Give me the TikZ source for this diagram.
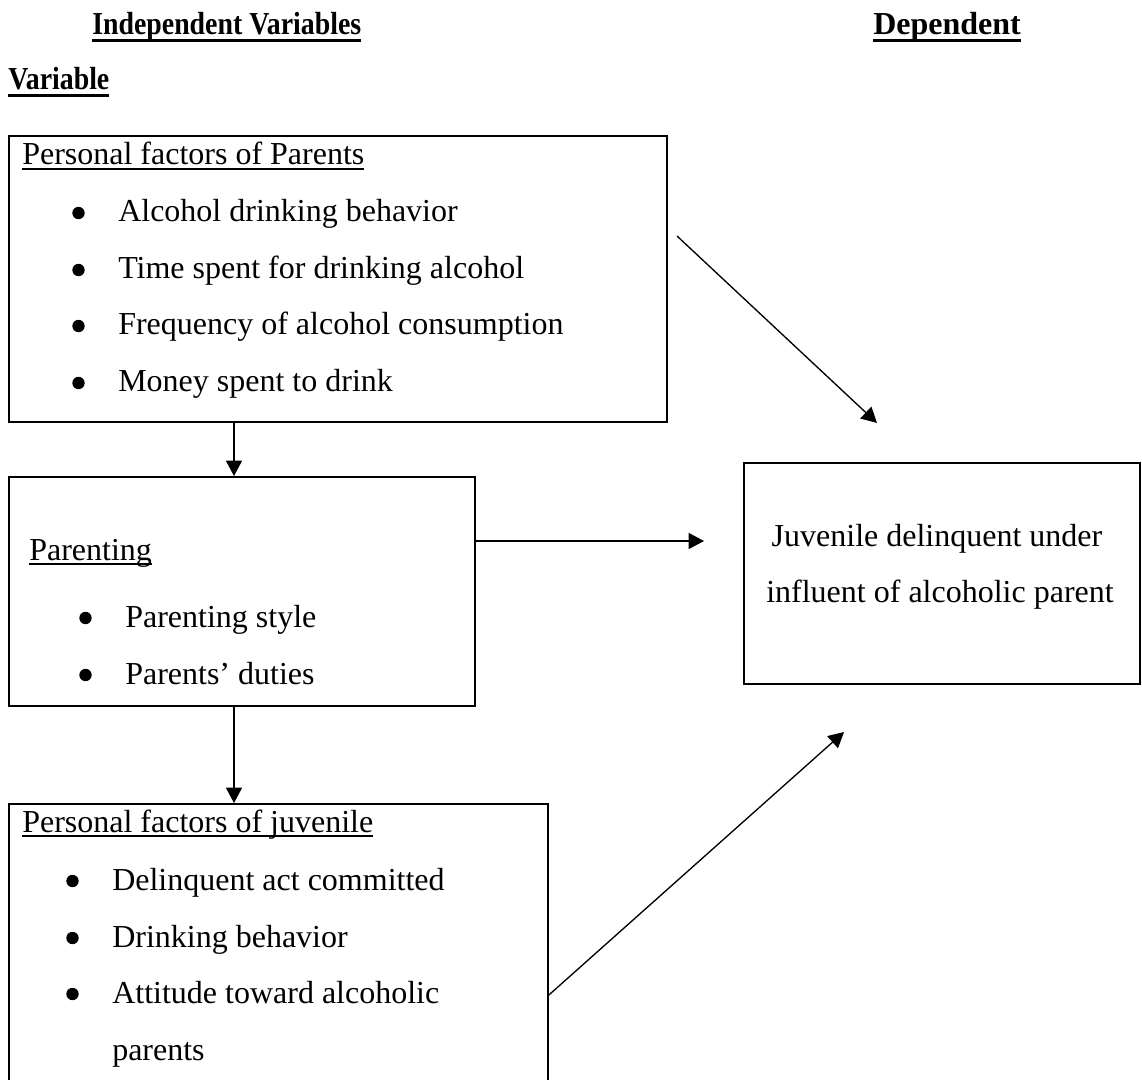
\documentclass[tikz,border=0pt]{standalone}
\usepackage{fontspec}
\setmainfont{Liberation Serif}
\usetikzlibrary{arrows.meta}
% underline at a set depth and thickness
\newcommand{\ulbox}[3]{\setbox0=\hbox{#3}\rlap{\rule[-#1]{\wd0}{#2}}\box0}
\newcommand{\narrow}[1]{\scalebox{0.87}[1]{#1}}

\begin{document}
\begin{tikzpicture}[x=0.75pt,y=0.75pt,yscale=-1,
  frame/.style={draw, line width=1.4pt, inner sep=0pt, anchor=north west},
  txt/.style={anchor=base west, inner sep=0pt, font=\fontsize{24pt}{28pt}\selectfont},
  head/.style={anchor=base west, inner sep=0pt, font=\fontsize{24pt}{28pt}\selectfont\bfseries},
  dot/.style={fill=black},
  arr/.style={line width=1pt, -{Triangle[length=11.5pt,width=12pt]}}]
\useasboundingbox (0,0) rectangle (1142,1080);
\clip (0,0) rectangle (1142,1080);

%Headings
\node[head] (indep) at (92,35) {\ulbox{0.22em}{0.1em}{\narrow{Independent Variables}}};
\node[head] (dep) at (873,35) {\ulbox{0.22em}{0.1em}{Dependent}};
\node[head] (var) at (8,90) {\ulbox{0.22em}{0.1em}{\narrow{Variable}}};

%Shape: Rectangle [parents]
\node[frame, minimum width={658*0.75pt}, minimum height={286*0.75pt}] (pers) at (8,135) {};
\node[txt] (persT) at (22,165) {\ulbox{0.16em}{0.07em}{Personal factors of Parents}};
\node[txt] (persA) at (118,222) {Alcohol drinking behavior};
\node[txt] (persB) at (118,279) {Time spent for drinking alcohol};
\node[txt] (persC) at (118,335) {Frequency of alcohol consumption};
\node[txt] (persD) at (118,392) {Money spent to drink};
\fill[dot] ([shift={(-39.5,-9)}]persA.base west) circle (6.2);
\fill[dot] ([shift={(-39.5,-9)}]persB.base west) circle (6.2);
\fill[dot] ([shift={(-39.5,-9)}]persC.base west) circle (6.2);
\fill[dot] ([shift={(-39.5,-9)}]persD.base west) circle (6.2);

%Shape: Rectangle [parenting]
\node[frame, minimum width={466*0.75pt}, minimum height={229*0.75pt}] (par) at (8,476) {};
\node[txt] (parT) at (29,560) {\ulbox{0.16em}{0.07em}{Parenting}};
\node[txt] (parA) at (125,627) {Parenting style};
\node[txt] (parB) at (125,684) {Parents’ duties};
\fill[dot] ([shift={(-39.5,-9)}]parA.base west) circle (6.2);
\fill[dot] ([shift={(-39.5,-9)}]parB.base west) circle (6.2);

%Shape: Rectangle [juvenile]
\node[frame, minimum width={539*0.75pt}, minimum height={300*0.75pt}] (juv) at (8,803) {};
\node[txt] (juvT) at (22,832) {\ulbox{0.16em}{0.07em}{Personal factors of juvenile}};
\node[txt] (juvA) at (112,890) {Delinquent act committed};
\node[txt] (juvB) at (112,947) {Drinking behavior};
\node[txt] (juvC) at (112,1003) {Attitude toward alcoholic};
\node[txt] (juvD) at (112,1060) {parents};
\fill[dot] ([shift={(-39.5,-9)}]juvA.base west) circle (6.2);
\fill[dot] ([shift={(-39.5,-9)}]juvB.base west) circle (6.2);
\fill[dot] ([shift={(-39.5,-9)}]juvC.base west) circle (6.2);

%Shape: Rectangle [dependent]
\node[frame, minimum width={396*0.75pt}, minimum height={221*0.75pt}] (out) at (743,462) {};
\node[txt, anchor=base] (outA) at (937,546) {Juvenile delinquent under};
\node[txt, anchor=base] (outB) at (940,602) {influent of alcoholic parent};

%Arrows
\coordinate (down) at (234,0);
\coordinate (persS) at (677,236);
\coordinate (persE) at (877,423);
\coordinate (parE) at (704,541);
\coordinate (juvS) at (547,995);
\coordinate (juvE) at (844,732);
\draw[arr] (persS) -- (persE);
\draw[arr] (pers.south -| down) -- (par.north -| down);
\draw[arr] (par.east |- parE) -- (parE);
\draw[arr] (par.south -| down) -- (juv.north -| down);
\draw[arr] (juv.east |- juvS) -- (juvE);

\end{tikzpicture}
\end{document}
